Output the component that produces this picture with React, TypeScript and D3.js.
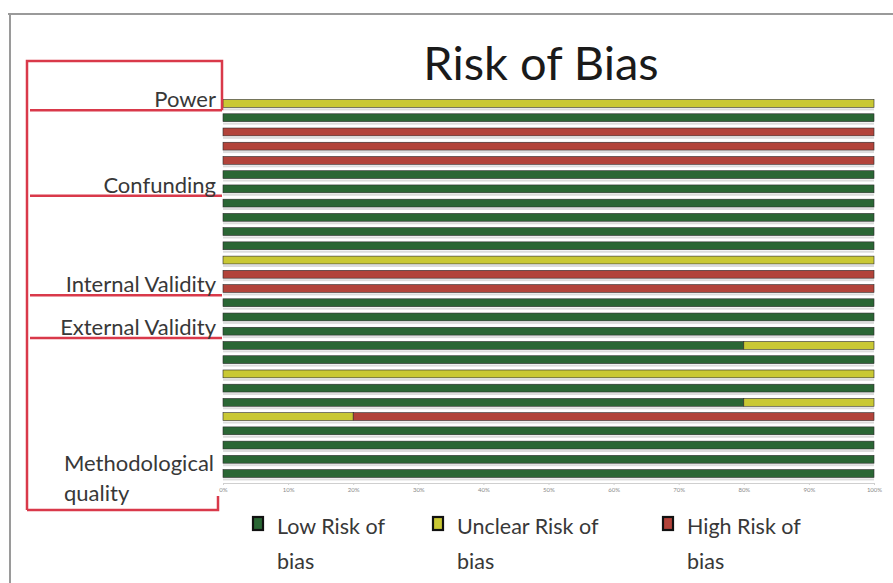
import React, { useRef, useEffect } from 'react';
import * as d3 from 'd3';

// one entry per study row, top to bottom (percent of low / unclear / high risk)
const lowRisk = [0, 100, 0, 0, 0, 100, 100, 100, 100, 100, 100, 0, 0, 0, 100, 100, 100, 80, 100, 0, 100, 80, 0, 100, 100, 100, 100];
const unclearRisk = [100, 0, 0, 0, 0, 0, 0, 0, 0, 0, 0, 100, 0, 0, 0, 0, 0, 20, 0, 100, 0, 20, 20, 0, 0, 0, 0];
const highRisk = [0, 0, 100, 100, 100, 0, 0, 0, 0, 0, 0, 0, 100, 100, 0, 0, 0, 0, 0, 0, 0, 0, 80, 0, 0, 0, 0];

const groupNames = ['Power', 'Confunding', 'Internal Validity', 'External Validity', 'Methodological quality'];
const groupSizes = [1, 6, 7, 3, 10];

const legendLabels = ['Low Risk of bias', 'Unclear Risk of bias', 'High Risk of bias'];
const riskKeys = ['low', 'unclear', 'high'];
const xTicks = [0, 10, 20, 30, 40, 50, 60, 70, 80, 90, 100];

const colors = { low: '#2a6634', unclear: '#c9c834', high: '#b2433a' };

const width = 893;
const height = 583;

const App = () => {
  const svgRef = useRef();

  useEffect(() => {
    const svg = d3.select(svgRef.current);
    svg.selectAll('*').remove();

    const rows = lowRisk.map((v, i) => ({ id: i, low: v, unclear: unclearRisk[i], high: highRisk[i] }));

    const xScale = d3.scaleLinear().domain([0, 100]).range([223, 874]);
    const yScale = d3.scaleBand()
      .domain(rows.map(d => d.id))
      .range([96, 481])
      .paddingInner(0.45)
      .paddingOuter(0.25);

    const font = 'Lato, "Open Sans", sans-serif';
    const labelColor = '#383838';

    // outer frame
    svg.append('path')
      .attr('d', `M8,14 H${width} M10,14 V${height}`)
      .attr('stroke', '#9a9a9a')
      .attr('stroke-width', 2)
      .attr('fill', 'none');

    svg.append('text')
      .attr('x', 541)
      .attr('y', 80)
      .attr('text-anchor', 'middle')
      .attr('font-family', font)
      .attr('font-size', 47)
      .attr('fill', '#1a1a1a')
      .text('Risk of Bias');

    // bars
    const stack = d3.stack().keys(riskKeys)(rows);
    const step = yScale.step();
    const barH = yScale.bandwidth();

    // faint shadow strip under every row
    svg.append('g')
      .selectAll('rect')
      .data(rows)
      .enter()
      .append('rect')
      .attr('x', xScale(0))
      .attr('y', d => yScale(d.id) + barH + 1)
      .attr('width', xScale(100) - xScale(0))
      .attr('height', 2)
      .attr('fill', '#dcdcdc');

    stack.forEach(layer => {
      svg.append('g')
        .selectAll('rect')
        .data(layer.filter(s => s[1] - s[0] > 0))
        .enter()
        .append('rect')
        .attr('x', s => xScale(s[0]))
        .attr('y', s => yScale(s.data.id))
        .attr('width', s => xScale(s[1]) - xScale(s[0]))
        .attr('height', barH)
        .attr('fill', colors[layer.key])
        .attr('stroke', '#2b2b2b')
        .attr('stroke-width', 0.6);
    });

    // x axis
    const axis = svg.append('g')
      .attr('transform', `translate(0, ${yScale.range()[1] + 2})`)
      .call(d3.axisBottom(xScale).tickValues(xTicks).tickSize(2).tickFormat(d => d + '%'));
    axis.select('.domain').attr('stroke', '#cfcfcf');
    axis.selectAll('.tick line').attr('stroke', '#cfcfcf');
    axis.selectAll('text')
      .attr('font-size', 6)
      .attr('font-family', font)
      .attr('fill', '#8a8a8a');

    // red brackets on the left
    const red = '#d9394a';
    const left = 27;
    const right = 222;
    const top = 61;
    const bottom = 510;
    const bracket = svg.append('g').attr('stroke', red).attr('stroke-width', 2.5).attr('fill', 'none');
    bracket.append('path').attr('d', `M${left},${bottom} V${top} H${right} V${yScale(1) - step * 0.25}`);

    let start = 0;
    groupNames.forEach((name, gi) => {
      const end = start + groupSizes[gi];
      const yLine = gi < groupNames.length - 1 ? yScale(end) - step * 0.25 : bottom;
      if (gi < groupNames.length - 1) {
        bracket.append('line')
          .attr('x1', left + 3).attr('x2', right)
          .attr('y1', yLine).attr('y2', yLine);
        svg.append('text')
          .attr('x', 216)
          .attr('y', yLine - 3)
          .attr('text-anchor', 'end')
          .attr('font-family', font)
          .attr('font-size', 22)
          .attr('fill', labelColor)
          .text(name);
      } else {
        bracket.append('path').attr('d', `M${left},${bottom} H${right - 4} V${bottom - 14}`);
        const words = name.split(' ');
        words.forEach((w, wi) => {
          svg.append('text')
            .attr('x', 64)
            .attr('y', 471 + wi * 30)
            .attr('font-family', font)
            .attr('font-size', 22)
            .attr('fill', labelColor)
            .text(w);
        });
      }
      start = end;
    });

    // legend
    const legendX = [253, 433, 663];
    legendLabels.forEach((label, i) => {
      const g = svg.append('g').attr('transform', `translate(${legendX[i]}, 517)`);
      g.append('rect')
        .attr('width', 10)
        .attr('height', 13)
        .attr('fill', colors[riskKeys[i]])
        .attr('stroke', '#111')
        .attr('stroke-width', 2.2);
      const parts = label.split(' bias');
      g.append('text')
        .attr('x', 24)
        .attr('y', 17)
        .attr('font-family', font)
        .attr('font-size', 21.5)
        .attr('fill', labelColor)
        .text(parts[0]);
      g.append('text')
        .attr('x', 24)
        .attr('y', 52)
        .attr('font-family', font)
        .attr('font-size', 21.5)
        .attr('fill', labelColor)
        .text('bias');
    });
  }, []);

  return (
    <svg
      ref={svgRef}
      width={width}
      height={height}
      style={{ position: 'absolute', left: 0, top: 0, background: 'white' }}
    />
  );
};

export default App;
